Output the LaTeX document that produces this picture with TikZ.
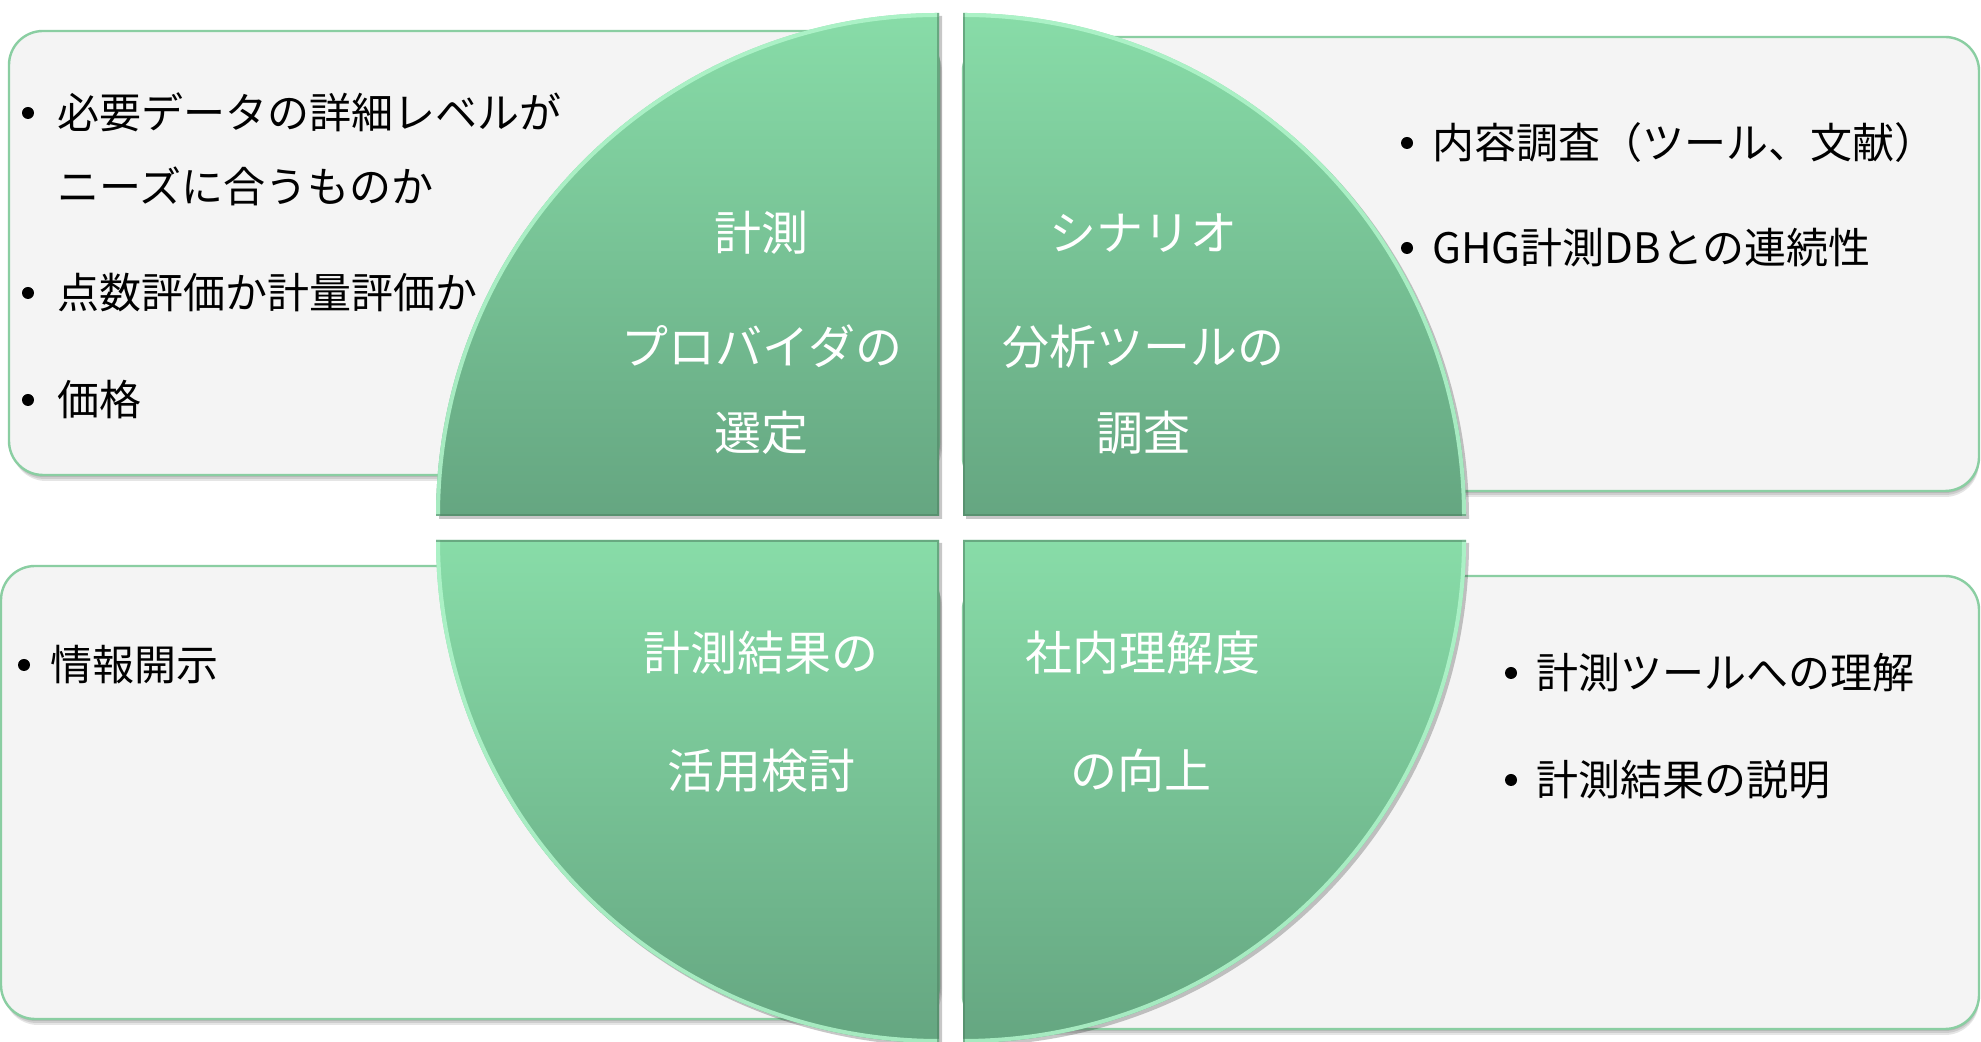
\documentclass[tikz,border=0pt]{standalone}
\usepackage{fontspec}
\setmainfont{Noto Sans CJK JP}
\definecolor{boxfill}{RGB}{244,244,244}
\definecolor{boxline}{RGB}{138,206,162}
\definecolor{pietop}{RGB}{136,220,168}
\definecolor{piebot}{RGB}{101,166,129}
\definecolor{piehi}{RGB}{178,246,204}
\definecolor{pielo}{RGB}{78,128,98}
\begin{document}
\begin{tikzpicture}[x=0.5pt,y=0.5pt,
  infobox/.style={fill=boxfill, draw=boxline, line width=1.2pt, rounded corners=17pt},
  boxshadow/.style={fill=black, opacity=0.10, rounded corners=17pt},
  quad/.style={top color=pietop, bottom color=piebot, draw=none},
  quadshadow/.style={fill=black, opacity=0.22},
  hiedge/.style={draw=piehi, line width=4pt, opacity=0.85},
  loedge/.style={draw=pielo, line width=2.4pt, opacity=0.55},
  btext/.style={anchor=west, inner sep=0pt, font=\fontsize{21}{25}\selectfont, text height=18.5pt, text depth=2.5pt, text=black},
  ptext/.style={anchor=center, inner sep=0pt, font=\fontsize{23.5}{28}\selectfont, text height=20.7pt, text depth=2.8pt, text=white},
  bulletdot/.style={fill=black}
]
\useasboundingbox (0,0) rectangle (1981,1042);
\fill[white] (0,0) rectangle (1981,1042);

% ---------- info boxes ----------
\foreach \d in {2,4,6}{
  \fill[boxshadow] (9+\d*0.5,567-\d) rectangle (939+\d*0.5,1011-\d);
  \fill[boxshadow] (963+\d*0.5,551-\d) rectangle (1979,1005-\d);
  \fill[boxshadow] (1+\d*0.5,23-\d) rectangle (939+\d*0.5,476-\d);
  \fill[boxshadow] (963+\d*0.5,13-\d) rectangle (1979,466-\d);
}
\path[infobox] (9,567) rectangle (939,1011);
\path[infobox] (963,551) rectangle (1979,1005);
\path[infobox] (1,23) rectangle (939,476);
\path[infobox] (963,13) rectangle (1979,466);

% ---------- pie quadrants ----------
% shadows
\fill[quadshadow] (942,523) -- (439,523) arc[start angle=180,end angle=90,radius=251.5pt] -- cycle;
\fill[quadshadow] (966,523) -- (966,1026) arc[start angle=90,end angle=0,radius=251.5pt] -- cycle;
\fill[quadshadow] (942,499) -- (942,-4) arc[start angle=270,end angle=180,radius=251.5pt] -- cycle;
\fill[quadshadow] (966,499) -- (1469,499) arc[start angle=0,end angle=-90,radius=251.5pt] -- cycle;

% TL
\path[quad] (939,526) -- (436,526) arc[start angle=180,end angle=90,radius=251.5pt] -- cycle;
\begin{scope}
  \clip (939,526) -- (436,526) arc[start angle=180,end angle=90,radius=251.5pt] -- cycle;
  \draw[hiedge] (436,526) arc[start angle=180,end angle=90,radius=251.5pt];
  \draw[loedge] (436,526) -- (939,526) -- (939,1029);
\end{scope}
% TR
\path[quad] (963,526) -- (963,1029) arc[start angle=90,end angle=0,radius=251.5pt] -- cycle;
\begin{scope}
  \clip (963,526) -- (963,1029) arc[start angle=90,end angle=0,radius=251.5pt] -- cycle;
  \draw[hiedge] (963,1029) arc[start angle=90,end angle=0,radius=251.5pt];
  \draw[loedge] (963,1029) -- (963,526) -- (1466,526);
\end{scope}
% BL
\path[quad] (939,502) -- (939,-1) arc[start angle=270,end angle=180,radius=251.5pt] -- cycle;
\begin{scope}
  \clip (939,502) -- (939,-1) arc[start angle=270,end angle=180,radius=251.5pt] -- cycle;
  \draw[hiedge] (939,-1) arc[start angle=270,end angle=180,radius=251.5pt];
  \draw[loedge] (939,-1) -- (939,502) -- (436,502);
\end{scope}
% BR
\path[quad] (963,502) -- (1466,502) arc[start angle=0,end angle=-90,radius=251.5pt] -- cycle;
\begin{scope}
  \clip (963,502) -- (1466,502) arc[start angle=0,end angle=-90,radius=251.5pt] -- cycle;
  \draw[hiedge] (1466,502) arc[start angle=0,end angle=-90,radius=251.5pt];
  \draw[loedge] (1466,502) -- (963,502) -- (963,-1);
\end{scope}

% ---------- pie texts ----------
\node[ptext] (tl1) at (761,809) {計測};
\node[ptext] (tl2) at (762,695) {プロバイダの};
\node[ptext] (tl3) at (761,609) {選定};
\node[ptext] (tr1) at (1143,809) {シナリオ};
\node[ptext] (tr2) at (1143,695) {分析ツールの};
\node[ptext] (tr3) at (1143,609) {調査};
\node[ptext] (bl1) at (761,389) {計測結果の};
\node[ptext] (bl2) at (761,271) {活用検討};
\node[ptext] (br1) at (1143,389) {社内理解度};
\node[ptext] (br2) at (1141,271) {の向上};

% ---------- box texts ----------
\fill[bulletdot] (28,929) circle[radius=3pt];
\node[btext] (a1) at (57,929) {必要データの詳細レベルが};
\node[btext] (a2) at (57,855) {ニーズに合うものか};
\fill[bulletdot] (28,749) circle[radius=3pt];
\node[btext] (a3) at (57,749) {点数評価か計量評価か};
\fill[bulletdot] (28,642) circle[radius=3pt];
\node[btext] (a4) at (57,642) {価格};

\fill[bulletdot] (1407,899) circle[radius=3pt];
\node[btext] (b1) at (1432,899) {内容調査（ツール、文献）};
\fill[bulletdot] (1407,794) circle[radius=3pt];
\node[btext] (b2) at (1432,794) {GHG計測DBとの連続性};

\fill[bulletdot] (24,377) circle[radius=3pt];
\node[btext] (c1) at (50,377) {情報開示};

\fill[bulletdot] (1511,369) circle[radius=3pt];
\node[btext] (d1) at (1536,369) {計測ツールへの理解};
\fill[bulletdot] (1511,262) circle[radius=3pt];
\node[btext] (d2) at (1536,262) {計測結果の説明};
\end{tikzpicture}
\end{document}
